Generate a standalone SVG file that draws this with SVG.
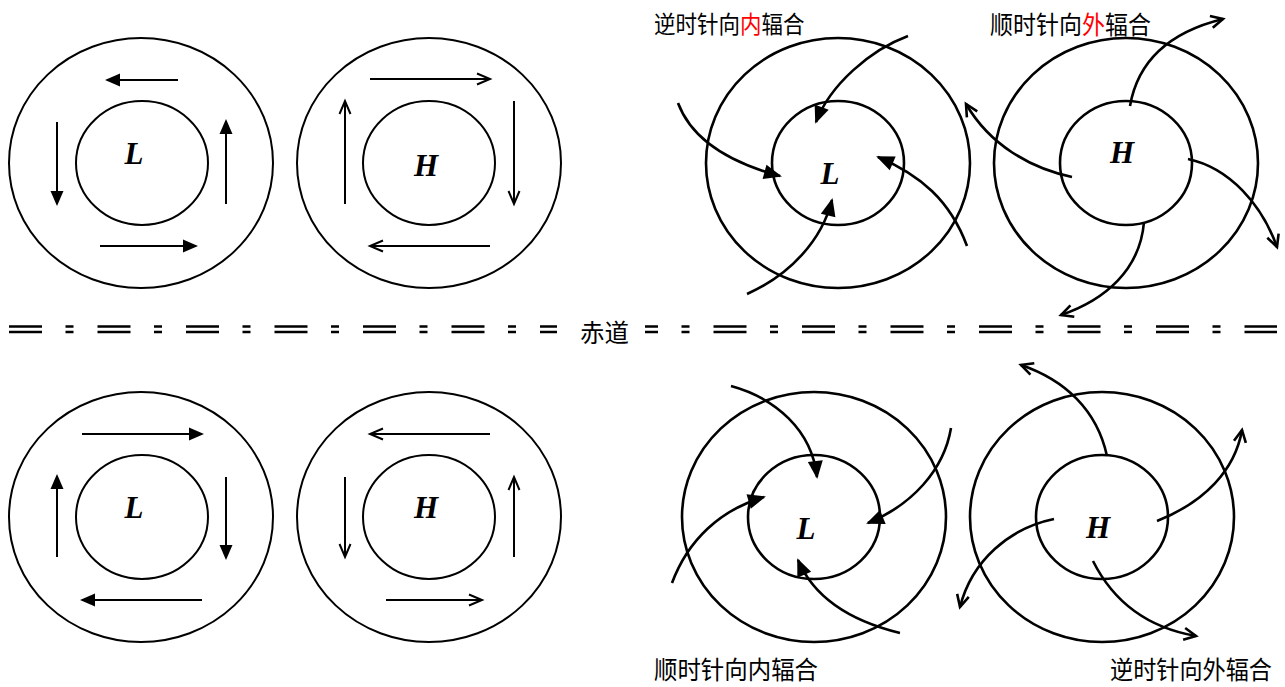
<svg xmlns="http://www.w3.org/2000/svg" width="1285" height="687" viewBox="0 0 1285 687">
<defs>
<style>
.c{fill:none;stroke:#000;stroke-width:2}
.c2{fill:none;stroke:#000;stroke-width:2.6}
.af{fill:none;stroke:#000;stroke-width:2;marker-end:url(#tri)}
.ao{fill:none;stroke:#000;stroke-width:2;marker-end:url(#vee)}
.cf{fill:none;stroke:#000;stroke-width:2.6;marker-end:url(#tri2)}
.co{fill:none;stroke:#000;stroke-width:2.6;marker-end:url(#vee2)}
.lt{font-family:"Liberation Serif","Times New Roman",serif;font-weight:bold;font-style:italic;font-size:31px;fill:#000;text-anchor:middle}
.cj{font-family:"Noto Sans CJK SC","Noto Sans",sans-serif;font-size:25px;fill:#000}
.s1{font-size:21.5px}
.s2{font-size:23px}
.red{fill:#FF0000}
.eq{fill:none;stroke:#000;stroke-width:2.5;stroke-dasharray:33 23.5 8 24}
</style>
<marker id="tri" markerUnits="userSpaceOnUse" markerWidth="16" markerHeight="14" refX="13" refY="6.5" orient="auto" overflow="visible">
<path d="M0,0 L15,6.5 L0,13 z" fill="#000"/>
</marker>
<marker id="tri2" markerUnits="userSpaceOnUse" markerWidth="20" markerHeight="16" refX="16" refY="7.5" orient="auto" overflow="visible">
<path d="M0,0 L18,7.5 L0,15 z" fill="#000"/>
</marker>
<marker id="vee" markerUnits="userSpaceOnUse" markerWidth="16" markerHeight="14" refX="13" refY="5.5" orient="auto" overflow="visible">
<path d="M0,0 L13,5.5 L0,11" fill="none" stroke="#000" stroke-width="2"/>
</marker>
<marker id="vee2" markerUnits="userSpaceOnUse" markerWidth="16" markerHeight="16" refX="12" refY="6" orient="auto" overflow="visible">
<path d="M0,0 L12,6 L0,12" fill="none" stroke="#000" stroke-width="2.6"/>
</marker>
</defs>
<rect width="1285" height="687" fill="#fff"/>

<g id="nh-low-flat">
<ellipse class="c" cx="141" cy="163" rx="132" ry="125"/>
<ellipse class="c" cx="142" cy="163" rx="66" ry="62"/>
<text class="lt" x="134" y="164">L</text>
</g>
<g id="nh-high-flat">
<ellipse class="c" cx="429" cy="163" rx="132" ry="125"/>
<ellipse class="c" cx="429" cy="163" rx="66" ry="62"/>
<text class="lt" x="426" y="176">H</text>
</g>
<g id="sh-low-flat">
<ellipse class="c" cx="141" cy="517" rx="132" ry="125"/>
<ellipse class="c" cx="142" cy="517" rx="66" ry="62"/>
<text class="lt" x="134" y="518">L</text>
</g>
<g id="sh-high-flat">
<ellipse class="c" cx="429" cy="517" rx="132" ry="125"/>
<ellipse class="c" cx="429" cy="517" rx="66" ry="62"/>
<text class="lt" x="426" y="518">H</text>
</g>
<g id="nh-low-conv">
<ellipse class="c2" cx="838" cy="163" rx="132" ry="125"/>
<ellipse class="c2" cx="838" cy="163" rx="66" ry="62"/>
<text class="lt" x="830" y="184">L</text>
</g>
<g id="nh-high-div">
<ellipse class="c2" cx="1126" cy="163" rx="132" ry="125"/>
<ellipse class="c2" cx="1126" cy="163" rx="66" ry="62"/>
<text class="lt" x="1122" y="163">H</text>
</g>
<g id="sh-low-conv">
<ellipse class="c2" cx="814" cy="517" rx="132" ry="125"/>
<ellipse class="c2" cx="814" cy="517" rx="66" ry="62"/>
<text class="lt" x="806" y="539">L</text>
</g>
<g id="sh-high-div">
<ellipse class="c2" cx="1102" cy="517" rx="132" ry="125"/>
<ellipse class="c2" cx="1102" cy="517" rx="66" ry="62"/>
<text class="lt" x="1098" y="538">H</text>
</g>

<g id="connectors">
<path class="af" d="M178,80 L107,80"/>
<path class="af" d="M57,122 L57,204"/>
<path class="af" d="M100,246 L196,246"/>
<path class="af" d="M226,204 L226,121"/>
<path class="ao" d="M370,79 L490,79"/>
<path class="ao" d="M514,101 L514,204"/>
<path class="ao" d="M490,246 L370,246"/>
<path class="ao" d="M345,204 L345,101"/>
<path class="af" d="M82,434 L202,434"/>
<path class="af" d="M226,477 L226,558"/>
<path class="af" d="M202,600 L82,600"/>
<path class="af" d="M57,557 L57,476"/>
<path class="ao" d="M490,434 L370,434"/>
<path class="ao" d="M345,477 L345,557"/>
<path class="ao" d="M386,600 L482,600"/>
<path class="ao" d="M514,557 L514,477"/>
<path class="cf" d="M908,36 C870,50 830,85 816,122"/>
<path class="cf" d="M678,103 C690,135 720,160 780,176"/>
<path class="cf" d="M747,294 C790,275 822,240 832,200"/>
<path class="cf" d="M967,246 C950,200 920,175 878,157"/>
<path class="co" d="M1130,106 C1138,60 1170,32 1223,19"/>
<path class="co" d="M1072,177 C1030,168 990,145 966,104"/>
<path class="co" d="M1188,159 C1230,168 1262,205 1277,247"/>
<path class="co" d="M1144,222 C1140,270 1105,300 1061,315"/>
<path class="cf" d="M731,386 C775,398 812,430 817,477"/>
<path class="cf" d="M951,428 C944,470 912,505 868,523"/>
<path class="cf" d="M900,633 C855,622 815,600 798,560"/>
<path class="cf" d="M672,583 C688,540 720,510 764,497"/>
<path class="co" d="M1107,456 C1097,410 1065,380 1021,365"/>
<path class="co" d="M1157,521 C1205,502 1235,470 1242,430"/>
<path class="co" d="M1054,519 C1010,528 972,560 960,607"/>
<path class="co" d="M1093,561 C1115,605 1150,628 1196,636"/>
</g>

<g id="equator">
<line class="eq" x1="9" y1="326.5" x2="557" y2="326.5"/>
<line class="eq" x1="9" y1="332" x2="557" y2="332"/>
<line class="eq" x1="645" y1="326.5" x2="1277" y2="326.5" stroke-dashoffset="20"/>
<line class="eq" x1="645" y1="332" x2="1277" y2="332" stroke-dashoffset="20"/>
<text class="cj" x="580" y="342" textLength="49" lengthAdjust="spacingAndGlyphs">赤道</text>
</g>

<g id="labels">
<g transform="translate(654,33) scale(1,1.1)">
<text class="cj s1" x="0" y="0">逆时针向</text>
<text class="cj s1 red" x="86" y="0">内</text>
<text class="cj s1" x="107.5" y="0">辐合</text>
</g>
<g transform="translate(990,34) scale(1,1.08)">
<text class="cj s2" x="0" y="0">顺时针向</text>
<text class="cj s2 red" x="92" y="0">外</text>
<text class="cj s2" x="115" y="0">辐合</text>
</g>
<text class="cj" x="654" y="679" textLength="164" lengthAdjust="spacingAndGlyphs">顺时针向内辐合</text>
<text class="cj" x="1110" y="679" textLength="162" lengthAdjust="spacingAndGlyphs">逆时针向外辐合</text>
</g>
</svg>
